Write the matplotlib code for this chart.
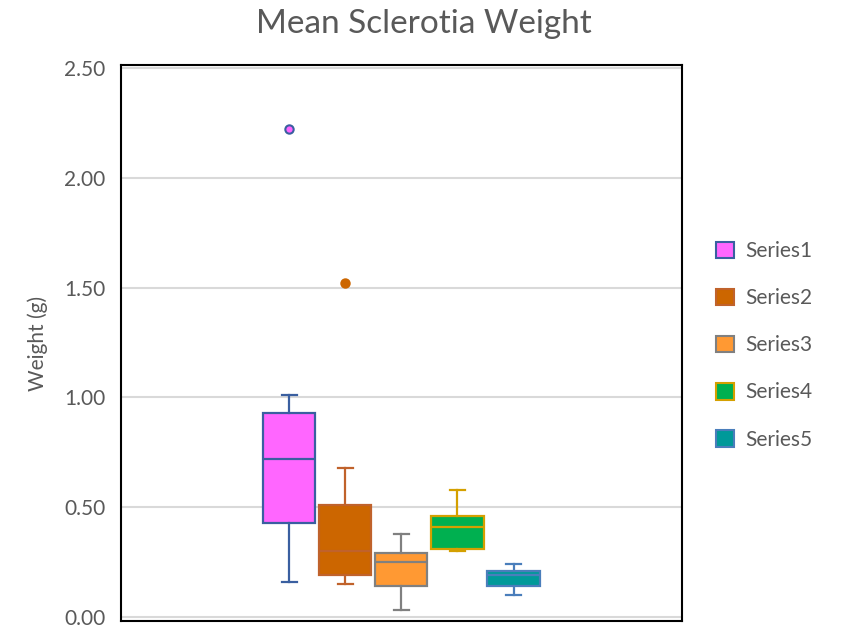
import matplotlib.pyplot as plt
from matplotlib.patches import Patch

plt.rcParams['font.family'] = ['Lato', 'DejaVu Sans']

# box statistics per series (weight in g)
series = ['Series1', 'Series2', 'Series3', 'Series4', 'Series5']
whislo = [0.16, 0.15, 0.03, 0.30, 0.10]
q1 = [0.43, 0.19, 0.14, 0.31, 0.14]
med = [0.72, 0.30, 0.25, 0.41, 0.19]
q3 = [0.93, 0.51, 0.29, 0.46, 0.21]
whishi = [1.01, 0.68, 0.38, 0.58, 0.24]
outliers = [[2.22], [1.52], [], [], []]

fills = ['#FF66FF', '#CC6600', '#FF9933', '#00B050', '#009999']
edges = ['#3A5FA0', '#C0622B', '#808080', '#D4A000', '#4A7EBB']
text_col = '#595959'

fig = plt.figure(figsize=(8.43, 6.28), dpi=100)
ax = fig.add_axes([0.1435, 0.0111, 0.6652, 0.8849])

stats = []
for i, name in enumerate(series):
    stats.append(dict(label=name, whislo=whislo[i], q1=q1[i], med=med[i],
                      q3=q3[i], whishi=whishi[i], fliers=outliers[i]))

positions = [3, 4, 5, 6, 7]
for i, st in enumerate(stats):
    ec = edges[i]
    ax.bxp([st], positions=[positions[i]], widths=0.93, capwidths=0.27,
           patch_artist=True, showfliers=True,
           boxprops=dict(facecolor=fills[i], edgecolor=ec, linewidth=1.6),
           medianprops=dict(color=ec, linewidth=1.6),
           whiskerprops=dict(color=ec, linewidth=1.6),
           capprops=dict(color=ec, linewidth=1.6),
           flierprops=dict(marker='o', markersize=6, markerfacecolor=fills[i],
                           markeredgecolor=ec if i == 0 else fills[i],
                           markeredgewidth=1.5))

ax.set_xlim(0, 10)
ax.set_ylim(-0.018, 2.512)
ax.set_xticks([])
ax.set_yticks([0, 0.5, 1.0, 1.5, 2.0, 2.5])
ax.set_yticklabels([f'{v:.2f}' for v in [0, 0.5, 1.0, 1.5, 2.0, 2.5]])
ax.tick_params(axis='y', length=0, labelsize=15, labelcolor=text_col, pad=11)
ax.yaxis.grid(True, color='#D9D9D9', linewidth=1.5)
ax.set_axisbelow(True)
for s in ax.spines.values():
    s.set_color('black')
    s.set_linewidth(1.5)

ax.set_ylabel('Weight (g)', fontsize=15, color=text_col, labelpad=12)
fig.text(0.503, 0.962, 'Mean Sclerotia Weight', ha='center', va='center',
         fontsize=24, color=text_col)

handles = [Patch(facecolor=fills[i], edgecolor=edges[i], linewidth=1.5, label=series[i])
           for i in range(len(series))]
fig.legend(handles=handles, loc='center left', bbox_to_anchor=(0.827, 0.45),
           frameon=False, fontsize=15, labelcolor=text_col,
           handlelength=0.85, handleheight=0.85, handletextpad=0.55,
           labelspacing=1.3)

fig.savefig('out.png', dpi=100)
